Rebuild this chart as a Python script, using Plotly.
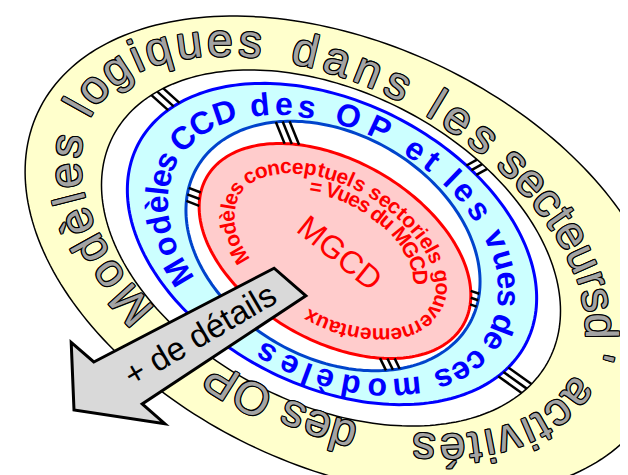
import numpy as np
import plotly.graph_objects as go

W, H = 628, 475

# ---------------- data (texts) ----------------
outer_segments = ["Modèles logiques", "dans les", "secteurs", "d'", "activités", "des OP"]
outer_seg_t = [(121.3, 234.4), (246.6, 286.6), (294.7, 333.9), (341.7, 351.2),
               (365.2, 412.5), (430.4, 456.9)]
blue_text = "Modèles CCD des OP et les vues de ces modèles"
red_text = "Modèles conceptuels sectoriels gouvernementaux"
red_text2 = "= Vues du MGCD"
center_label = "MGCD"
arrow_label = "+ de détails"

# ---------------- geometry (cx, cy, a, b, rotation deg) ----------------
E_outer = (338, 248, 340, 212, 25)
E_yin = (323, 240, 245, 156, 27)
E_bout = (324, 236, 218, 142, 27)
E_bin = (325, 238, 157, 112, 30)
E_red = (327, 243, 148, 90, 30)

T_outer = (325, 237, 290, 174, 28)
T_blue = (325, 239, 188, 127, 28)
T_red = (327, 243, 118, 71, 30)
T_red2 = (327, 243, 93, 55, 30)

REG = {' ': .278, 'M': .833, 'o': .556, 'd': .556, 'è': .556, 'é': .556, 'l': .222, 'e': .556,
       's': .5, 'g': .556, 'i': .222, 'q': .556, 'u': .556, 'a': .556, 'n': .556, 'c': .5,
       't': .278, 'r': .333, "'": .191, 'v': .5, 'O': .778, 'P': .667, '+': .584}
BOLD = {' ': .278, 'M': .833, 'o': .611, 'd': .611, 'è': .556, 'l': .278, 'e': .556, 's': .556,
        'C': .722, 'D': .722, 'O': .778, 'P': .667, 't': .333, 'v': .556, 'u': .611, 'm': .889,
        'n': .611, 'c': .556, 'p': .611, 'r': .389, 'i': .278, 'g': .611, 'a': .556, 'x': .556,
        '=': .584, 'V': .667, 'G': .778}


def ell_point(E, t):
    cx, cy, a, b, rot = E
    th = np.radians(rot)
    ct, st = np.cos(th), np.sin(th)
    return (cx + a * np.cos(t) * ct - b * np.sin(t) * st,
            cy + a * np.cos(t) * st + b * np.sin(t) * ct)


def ell_tangent(E, t):
    cx, cy, a, b, rot = E
    th = np.radians(rot)
    ct, st = np.cos(th), np.sin(th)
    return (-a * np.sin(t) * ct - b * np.cos(t) * st,
            -a * np.sin(t) * st + b * np.cos(t) * ct)


def polar_to_t(E, phi):
    cx, cy, a, b, rot = E
    th = np.radians(rot)
    p = np.radians(phi)
    du = np.cos(p) * np.cos(th) + np.sin(p) * np.sin(th)
    dv = -np.cos(p) * np.sin(th) + np.sin(p) * np.cos(th)
    return np.arctan2(dv / b, du / a)


def ell_path(E, n=240):
    t = np.linspace(0, 2 * np.pi, n, endpoint=False)
    x, y = ell_point(E, t)
    return "M " + " L ".join(f"{a:.2f},{b:.2f}" for a, b in zip(x, y)) + " Z"


def place_text(text, E, t0, t1, fs, wtab, font, mode='arc'):
    """t0, t1: ellipse parameter angles (deg) of first / last character centres."""
    t0 = np.radians(t0)
    t1 = np.radians(t1)
    while t1 <= t0:
        t1 += 2 * np.pi
    ts = np.linspace(t0, t1, 5000)
    if mode == 'arc':
        x, y = ell_point(E, ts)
        s = np.concatenate([[0], np.cumsum(np.hypot(np.diff(x), np.diff(y)))])
    else:
        s = ts - t0
    L = s[-1]
    adv = np.array([wtab.get(ch, 0.55) for ch in text])
    centers = np.cumsum(adv) - adv / 2
    centers -= centers[0]
    n = len(text)
    if mode == 'arc':
        centers = centers * fs
        track = (L - centers[-1]) / (n - 1)
        pos = centers + track * np.arange(n)
    else:
        pos = centers / centers[-1] * L
    anns = []
    for ch, p in zip(text, pos):
        if ch == ' ':
            continue
        t = np.interp(p, s, ts)
        px, py = ell_point(E, t)
        dx, dy = ell_tangent(E, t)
        ang = float(np.degrees(np.arctan2(dy, dx)))
        anns.append(dict(x=float(px), y=float(py), xref='x', yref='y', text=ch,
                         textangle=ang, showarrow=False, xanchor='center', yanchor='middle',
                         font=dict(size=fs, **font)))
    return anns


def ray_hit(E, ox, oy, dx, dy):
    cx, cy, a, b, rot = E
    th = np.radians(rot)
    ct, st = np.cos(th), np.sin(th)
    px, py = ox - cx, oy - cy
    pu, pv = px * ct + py * st, -px * st + py * ct
    du, dv = dx * ct + dy * st, -dx * st + dy * ct
    A = (du / a) ** 2 + (dv / b) ** 2
    B = 2 * (pu * du / a ** 2 + pv * dv / b ** 2)
    C = (pu / a) ** 2 + (pv / b) ** 2 - 1
    s = (-B + np.sqrt(B * B - 4 * A * C)) / (2 * A)
    return ox + s * dx, oy + s * dy


def connectors(Ein, Eout, origin, angles, gap=6.5):
    out = []
    ox, oy = origin
    for phi in angles:
        p = np.radians(phi)
        d = (np.cos(p), np.sin(p))
        nrm = (-np.sin(p), np.cos(p))
        for k in (-1, 0, 1):
            sx, sy = ox + k * gap * nrm[0], oy + k * gap * nrm[1]
            x0, y0 = ray_hit(Ein, sx, sy, *d)
            x1, y1 = ray_hit(Eout, sx, sy, *d)
            out.append(dict(type='line', xref='x', yref='y', x0=x0, y0=y0, x1=x1, y1=y1,
                            line=dict(color='black', width=2.5)))
    return out


shapes = []
shapes.append(dict(type='path', path=ell_path(E_outer), fillcolor='#ffffcc',
                   line=dict(color='black', width=1.5), xref='x', yref='y'))
shapes.append(dict(type='path', path=ell_path(E_yin), fillcolor='white',
                   line=dict(color='black', width=1.5), xref='x', yref='y'))
shapes.append(dict(type='path', path=ell_path(E_bout), fillcolor='#ccffff',
                   line=dict(color='#0000ff', width=3), xref='x', yref='y'))
shapes.append(dict(type='path', path=ell_path(E_bin), fillcolor='white',
                   line=dict(color='#0044cc', width=3), xref='x', yref='y'))
shapes.append(dict(type='path', path=ell_path(E_red), fillcolor='#ffcccc',
                   line=dict(color='#ff0000', width=3), xref='x', yref='y'))

shapes += connectors(E_yin, E_bout, (323, 240), [222, 331, 35.7])
shapes += connectors(E_bin, E_red, (327, 243), [248, 201, 19, 64])

# block arrow (skewed)
tail = np.array([282.0, 274.0])
base = np.array([110.0, 375.0])
tip = np.array([66.0, 402.0])
m = np.array([0.755, 0.656])
tail_hw, base_hw, head_hw = 21, 32, 62
verts = [tail + tail_hw * m, base + base_hw * m, base + head_hw * m, tip,
         base - head_hw * m, base - base_hw * m, tail - tail_hw * m]
arrow_path = "M " + " L ".join(f"{v[0]:.1f},{v[1]:.1f}" for v in verts) + " Z"
shapes.append(dict(type='path', path=arrow_path, fillcolor='#d9d9d9',
                   line=dict(color='black', width=3), xref='x', yref='y'))

outline = ("-1px -1px 0 #000, 1px -1px 0 #000, -1px 1px 0 #000, 1px 1px 0 #000, "
           "0 1px 0 #000, 1px 0 0 #000, 0 -1px 0 #000, -1px 0 0 #000")
SANS = "Liberation Sans, Arial, sans-serif"

anns = []
for seg, (ta, tb) in zip(outer_segments, outer_seg_t):
    anns += place_text(seg, T_outer, ta, tb, 46, REG,
                       dict(family=SANS, color='#a3a3a3', shadow=outline))
anns += place_text(blue_text, T_blue, 131.8, 452.7, 32, BOLD,
                   dict(family=SANS, color='#0000ff', weight='bold'), mode='param')
anns += place_text(red_text, T_red, 133.3, 444.2, 21, BOLD,
                   dict(family=SANS, color='#ff0000', weight='bold'))
t_a = float(np.degrees(polar_to_t(T_red2, 253.6)))
t_b = float(np.degrees(polar_to_t(T_red2, 16.9)))
anns += place_text(red_text2, T_red2, t_a, t_b, 21, BOLD,
                   dict(family=SANS, color='#ff0000', weight='bold'))

anns.append(dict(x=332, y=245, xref='x', yref='y', text=center_label, textangle=39,
                 showarrow=False, font=dict(family=SANS, size=32, color='#ff0000')))
ang = float(np.degrees(np.arctan2(tail[1] - base[1], tail[0] - base[0])))
mid = (tail + base) / 2
anns.append(dict(x=float(mid[0]) - 4, y=float(mid[1]) + 2, xref='x', yref='y', text=arrow_label,
                 textangle=ang, showarrow=False,
                 font=dict(family=SANS, size=33, color='black')))

fig = go.Figure()
fig.add_trace(go.Scatter(x=[0, W], y=[0, H], mode='markers', marker=dict(opacity=0),
                         hoverinfo='skip', showlegend=False))
fig.update_layout(width=W, height=H, margin=dict(l=0, r=0, t=0, b=0),
                  paper_bgcolor='white', plot_bgcolor='white', showlegend=False,
                  xaxis=dict(range=[0, W], visible=False, fixedrange=True),
                  yaxis=dict(range=[H, 0], visible=False, fixedrange=True),
                  shapes=shapes, annotations=anns)
fig.write_html("out.html")
